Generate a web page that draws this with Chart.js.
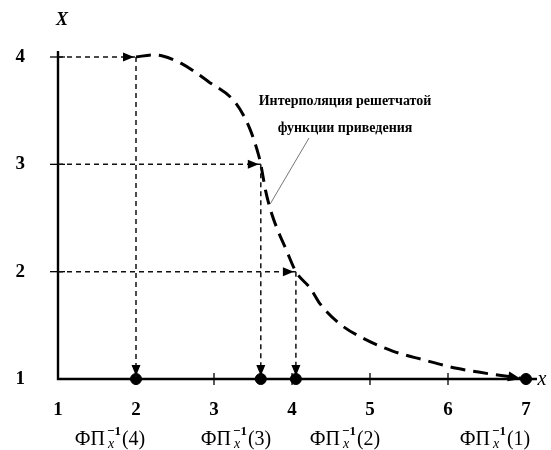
<!DOCTYPE html>
<html>
<head>
<meta charset="utf-8">
<script src="https://cdn.jsdelivr.net/npm/chart.js@4/dist/chart.umd.min.js"></script>
<style>
    html, body { margin: 0; padding: 0; background: #fff; }
    #wrap { width: 551px; height: 450px; }
</style>
</head>
<body>
<div id="wrap"><canvas id="c" width="551" height="450"></canvas></div>
<script>
// Tick labels of the two axes
const xTicks = [1, 2, 3, 4, 5, 6, 7];
const yTicks = [1, 2, 3, 4];

// Interpolated curve
const curveX = [2, 2.22, 2.34, 2.58, 2.93, 3.28, 3.46, 3.57, 3.6, 3.66, 3.74, 3.94, 4.05, 4.24, 4.35, 4.62, 4.91, 5.29, 5.68, 6.11, 6.8, 7];
const curveY = [4, 4.02, 4.01, 3.94, 3.77, 3.57, 3.33, 3.09, 3.0, 2.76, 2.54, 2.18, 2.0, 1.84, 1.71, 1.51, 1.38, 1.26, 1.18, 1.10, 1.02, 1];

// Lattice levels and their preimages on the x axis
const levels = [4, 3, 2, 1];
const preimages = [2, 3.6, 4.05, 7];
const preimageArgs = ['(4)', '(3)', '(2)', '(1)'];

const annotation = ['Интерполяция решетчатой', 'функции приведения'];

const SERIF = '"Liberation Serif", "DejaVu Serif", serif';

/* =======================
   DATASETS
======================= */
const guides = [];
levels.forEach((lvl, i) => {
    if (lvl === 1) return;
    guides.push({ data: [{ x: 1, y: lvl }, { x: preimages[i], y: lvl }] });
    guides.push({ data: [{ x: preimages[i], y: lvl }, { x: preimages[i], y: 1 }] });
});
const guideSets = guides.map(g => ({
    ...g,
    showLine: true,
    borderColor: '#111',
    borderWidth: 1.5,
    borderDash: [5, 4],
    pointRadius: 0,
    clip: false
}));

const curveSet = {
    data: curveX.map((x, i) => ({ x, y: curveY[i] })),
    showLine: true,
    borderColor: '#000',
    borderWidth: 3,
    borderDash: [15, 8],
    cubicInterpolationMode: 'monotone',
    pointRadius: 0,
    clip: false
};

const dotSet = {
    data: preimages.map(x => ({ x, y: 1 })),
    pointRadius: 5.5,
    pointBackgroundColor: '#000',
    pointBorderColor: '#000',
    clip: false
};

/* =======================
   DRAWING HELPERS
======================= */
const arrow = (ctx, x0, y0, x1, y1, len = 11, half = 4.5) => {
    const a = Math.atan2(y1 - y0, x1 - x0);
    ctx.beginPath();
    ctx.moveTo(x1, y1);
    ctx.lineTo(x1 - len * Math.cos(a) + half * Math.sin(a), y1 - len * Math.sin(a) - half * Math.cos(a));
    ctx.lineTo(x1 - len * Math.cos(a) - half * Math.sin(a), y1 - len * Math.sin(a) + half * Math.cos(a));
    ctx.closePath();
    ctx.fill();
};

const diagramPlugin = {
    id: 'diagram',
    beforeDatasetsDraw(chart) {
        const { ctx, scales: { x, y } } = chart;
        const px = v => x.getPixelForValue(v), py = v => y.getPixelForValue(v);
        ctx.save();
        ctx.strokeStyle = '#000';
        ctx.lineWidth = 2.4;
        ctx.beginPath();
        ctx.moveTo(px(1), py(4) - 6);
        ctx.lineTo(px(1), py(1));
        ctx.lineTo(px(7) + 11, py(1));
        ctx.stroke();

        // tick marks
        ctx.lineWidth = 1.3;
        xTicks.slice(1).forEach(v => {
            ctx.beginPath();
            ctx.moveTo(px(v), py(1) - 6);
            ctx.lineTo(px(v), py(1) + 6);
            ctx.stroke();
        });
        yTicks.slice(1).forEach(v => {
            ctx.beginPath();
            ctx.moveTo(px(1) - 8, py(v));
            ctx.lineTo(px(1) + 7, py(v));
            ctx.stroke();
        });
        ctx.restore();
    },
    afterDatasetsDraw(chart) {
        const { ctx, scales: { x, y } } = chart;
        const px = v => x.getPixelForValue(v), py = v => y.getPixelForValue(v);
        ctx.save();
        ctx.fillStyle = '#000';
        ctx.strokeStyle = '#000';

        // guide arrows
        levels.forEach((lvl, i) => {
            if (lvl === 1) return;
            const xp = px(preimages[i]);
            arrow(ctx, px(1), py(lvl), xp - 2, py(lvl), 11, 4.5);
            arrow(ctx, xp, py(lvl), xp, py(1) - 3, 11, 4.5);
        });

        // end of the curve
        const n = curveX.length;
        arrow(ctx, px(curveX[n - 2]), py(curveY[n - 2]), px(7) - 5, py(1), 13, 5);

        // axis names
        ctx.font = `italic bold 18px ${SERIF}`;
        ctx.textAlign = 'center';
        ctx.textBaseline = 'middle';
        ctx.fillText('X', px(1) + 4, 20);
        ctx.font = `italic 20px ${SERIF}`;
        ctx.fillText('x', px(7) + 16, py(1) + 1);

        // annotation + leader line
        ctx.font = `bold 14px ${SERIF}`;
        ctx.fillText(annotation[0], 345, 101);
        ctx.fillText(annotation[1], 345, 128);
        ctx.strokeStyle = '#777';
        ctx.lineWidth = 1;
        ctx.beginPath();
        ctx.moveTo(309, 138);
        ctx.lineTo(px(3.72), py(2.63));
        ctx.stroke();

        // preimage labels
        const centers = [110, 236, 345, 495];
        const big = `20px ${SERIF}`, sup = `bold 13px ${SERIF}`, sub = `italic 14px ${SERIF}`;
        ctx.textAlign = 'left';
        ctx.textBaseline = 'alphabetic';
        preimageArgs.forEach((arg, i) => {
            ctx.font = big;
            const wA = ctx.measureText('ФП').width;
            const wC = ctx.measureText(arg).width;
            ctx.font = sup;
            const wS = ctx.measureText('−1').width;
            const total = wA + 2 + wS + 1 + wC;
            let xs = centers[i] - total / 2;
            const base = 445;
            ctx.font = big;
            ctx.fillText('ФП', xs, base);
            xs += wA + 2;
            ctx.font = sup;
            ctx.fillText('−1', xs, base - 10);
            ctx.font = sub;
            ctx.fillText('x', xs + 1, base + 3);
            xs += wS + 1;
            ctx.font = big;
            ctx.fillText(arg, xs, base);
        });
        ctx.restore();
    }
};

/* =======================
   CHART
======================= */
const tickFont = { family: SERIF, size: 19, weight: 'bold' };

new Chart(document.getElementById('c'), {
    type: 'scatter',
    data: { datasets: [...guideSets, curveSet, dotSet] },
    options: {
        responsive: false,
        animation: false,
        devicePixelRatio: 1,
        layout: { padding: { top: 57, right: 25, left: 0, bottom: 0 } },
        plugins: { legend: { display: false }, tooltip: { enabled: false } },
        scales: {
            x: {
                type: 'linear',
                min: 1,
                max: 7,
                afterBuildTicks: s => { s.ticks = xTicks.map(v => ({ value: v })); },
                afterFit: s => { s.height = 71; },
                grid: { display: false },
                border: { display: false },
                ticks: { padding: 12, color: '#000', font: tickFont }
            },
            y: {
                type: 'linear',
                min: 1,
                max: 4,
                afterBuildTicks: s => { s.ticks = yTicks.map(v => ({ value: v })); },
                afterFit: s => { s.width = 58; },
                grid: { display: false },
                border: { display: false },
                ticks: { padding: 25, color: '#000', font: tickFont }
            }
        }
    },
    plugins: [diagramPlugin]
});
</script>
</body>
</html>
